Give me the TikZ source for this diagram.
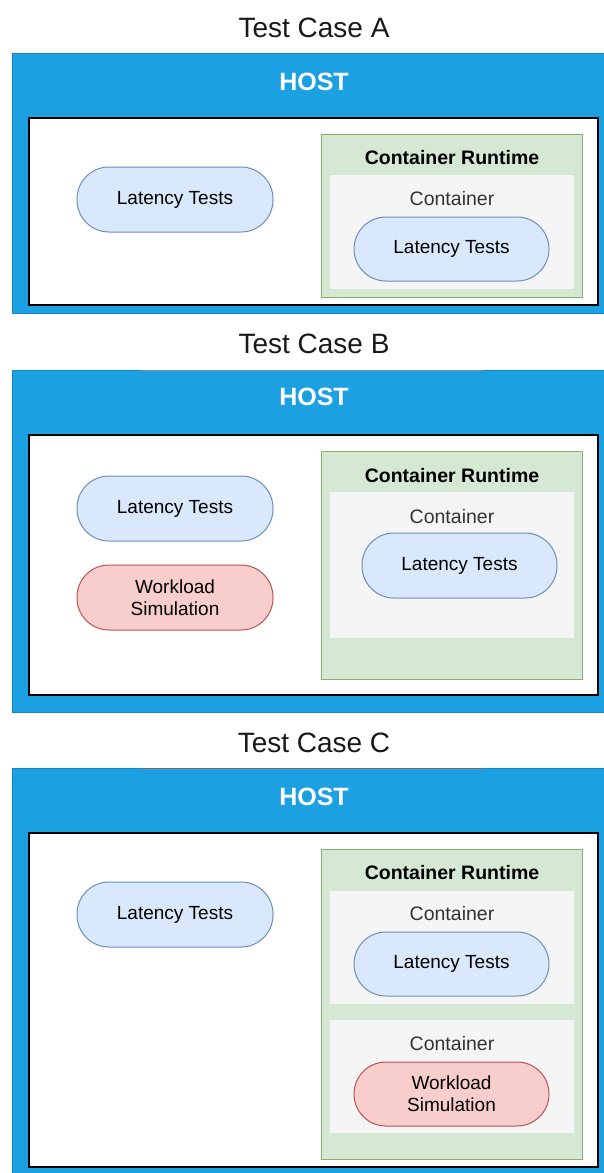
\documentclass[tikz,border=0pt]{standalone}
\usepackage{fontspec}
\setmainfont{Liberation Sans}
\definecolor{hostblue}{HTML}{1BA1E2}
\definecolor{hostedge}{HTML}{1587C4}
\definecolor{rtfill}{HTML}{D5E8D4}
\definecolor{rtedge}{HTML}{82B366}
\definecolor{ctfill}{HTML}{F5F5F5}
\definecolor{ltfill}{HTML}{DAE8FC}
\definecolor{ltedge}{HTML}{6C8EBF}
\definecolor{wsfill}{HTML}{F8CECC}
\definecolor{wsedge}{HTML}{B85450}
\tikzset{
  box/.style={rectangle, inner sep=0pt, outer sep=0pt},
  hostbox/.style={box, fill=hostblue, draw=hostedge, line width=1pt},
  whitebox/.style={box, fill=white, draw=black, line width=1.5pt},
  rtbox/.style={box, fill=rtfill, draw=rtedge, line width=1pt},
  ctbox/.style={box, fill=ctfill},
  pill/.style={box, rounded corners=32pt, line width=1pt, minimum width=195pt, minimum height=64pt, align=center, font=\fontsize{19}{22}\selectfont, text=black},
  ltpill/.style={pill, fill=ltfill, draw=ltedge},
  wspill/.style={pill, fill=wsfill, draw=wsedge},
  titletxt/.style={font=\fontsize{28}{32}\selectfont, text=black!90},
  hosttxt/.style={font=\fontsize{25}{28}\selectfont\bfseries, text=white},
  rttxt/.style={font=\fontsize{19.5}{22}\selectfont\bfseries, text=black},
  cttxt/.style={font=\fontsize{19.5}{22}\selectfont, text=black!80},
  sepline/.style={draw=black!45, line width=1pt}
}
\begin{document}
\begin{tikzpicture}[x=1pt,y=-1pt]
\useasboundingbox (0,0) rectangle (603,1173);
% ---------- Test Case A ----------
\node[titletxt] (titleA) at (314,28) {Test Case A};
\node[hostbox, minimum width=592pt, minimum height=260pt] (hostA) at (308,183) {};
\node[hosttxt] (hostlabelA) at (314,82) {HOST};
\node[whitebox, minimum width=569pt, minimum height=187pt] (whiteA) at (313.5,211.5) {};
\node[rtbox, minimum width=261pt, minimum height=163pt] (rtA) at (451.5,215.5) {};
\node[rttxt] (rtlabelA) at (452,158) {Container Runtime};
\node[ctbox, minimum width=244pt, minimum height=114pt] (ctA) at (452,232) {};
\node[cttxt] (ctlabelA) at (452,199) {Container};
\node[ltpill] (ltinA) at (451.5,249) {Latency Tests};
\node[ltpill, minimum width=196pt, minimum height=65pt] (ltA) at (175,199.5) {Latency Tests};
% ---------- Test Case B ----------
\node[titletxt] (titleB) at (314,344) {Test Case B};
\node[hostbox, minimum width=592pt, minimum height=342pt] (hostB) at (308,541) {};
\coordinate (sepBl) at (141,370);
\coordinate (sepBr) at (483,370);
\draw[sepline] (sepBl) -- (sepBr);
\node[hosttxt] (hostlabelB) at (314,397) {HOST};
\node[whitebox, minimum width=569pt, minimum height=260pt] (whiteB) at (313.5,565) {};
\node[rtbox, minimum width=261pt, minimum height=228pt] (rtB) at (451.5,565) {};
\node[rttxt] (rtlabelB) at (452,476) {Container Runtime};
\node[ctbox, minimum width=244pt, minimum height=146pt] (ctB) at (452,565) {};
\node[cttxt] (ctlabelB) at (452,517) {Container};
\node[ltpill, minimum height=65pt] (ltinB) at (459.5,565.5) {Latency Tests};
\node[ltpill, minimum width=196pt, minimum height=65pt] (ltB) at (175,508.5) {Latency Tests};
\node[wspill, minimum width=196pt, minimum height=65pt] (wsB) at (175,597.5) {Workload\\Simulation};
% ---------- Test Case C ----------
\node[titletxt] (titleC) at (314,743) {Test Case C};
\node[hostbox, minimum width=592pt, minimum height=408pt] (hostC) at (308,972) {};
\coordinate (sepCl) at (141,769);
\coordinate (sepCr) at (483,769);
\draw[sepline] (sepCl) -- (sepCr);
\node[hosttxt] (hostlabelC) at (314,797) {HOST};
\node[whitebox, minimum width=569pt, minimum height=334pt] (whiteC) at (313.5,1000) {};
\node[rtbox, minimum width=261pt, minimum height=310pt] (rtC) at (451.5,1004) {};
\node[rttxt] (rtlabelC) at (452,873) {Container Runtime};
\node[ctbox, minimum width=244pt, minimum height=113pt] (ctC1) at (452,947.5) {};
\node[cttxt] (ctlabelC1) at (452,914) {Container};
\node[ltpill] (ltinC) at (451.5,964) {Latency Tests};
\node[ctbox, minimum width=244pt, minimum height=113pt] (ctC2) at (452,1076.5) {};
\node[cttxt] (ctlabelC2) at (452,1044) {Container};
\node[wspill] (wsinC) at (451.5,1094) {Workload\\Simulation};
\node[ltpill, minimum width=196pt, minimum height=65pt] (ltC) at (175,914.5) {Latency Tests};
\end{tikzpicture}
\end{document}
